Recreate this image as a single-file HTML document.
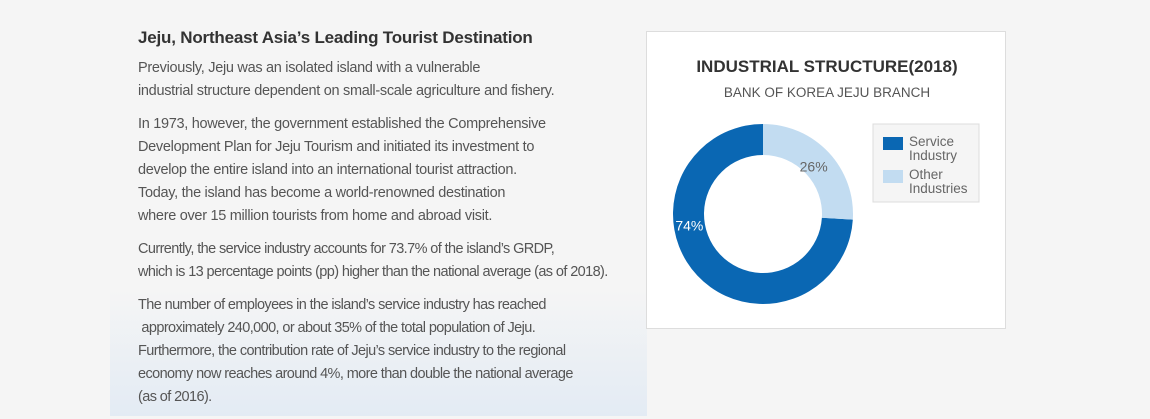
<!DOCTYPE html>
<html><head><meta charset="utf-8"><style>
body{margin:0;width:1150px;height:416px;background:#f5f5f5;font-family:"Liberation Sans",sans-serif;position:relative;overflow:hidden}
.grad{position:absolute;left:110px;top:290px;width:537px;height:126px;background:linear-gradient(#f5f5f5,#e3ebf4)}
.txt{position:absolute;left:138px;top:26px;width:520px;color:#555;font-size:14.5px;letter-spacing:-0.3px;line-height:23px}
h1{margin:0 0 8px;font-size:17px;color:#333;font-weight:bold;letter-spacing:-0.2px}
p{margin:0 0 10px}
.box{position:absolute;left:646px;top:31px;width:358px;height:296px;background:#fff;border:1px solid #ddd}
</style></head><body>
<div class="grad"></div>
<div class="txt">
<h1>Jeju, Northeast Asia’s Leading Tourist Destination</h1>
<p>Previously, Jeju was an isolated island with a vulnerable<br>industrial structure dependent on small-scale agriculture and fishery.</p>
<p>In 1973, however, the government established the Comprehensive<br>Development Plan for Jeju Tourism and initiated its investment to<br>develop the entire island into an international tourist attraction.<br>Today, the island has become a world-renowned destination<br>where over 15 million tourists from home and abroad visit.</p>
<p style="letter-spacing:-0.6px">Currently, the service industry accounts for 73.7% of the island’s GRDP,<br>which is 13 percentage points (pp) higher than the national average (as of 2018).</p>
<p style="letter-spacing:-0.6px">The number of employees in the island’s service industry has reached<br>&nbsp;approximately 240,000, or about 35% of the total population of Jeju.<br>Furthermore, the contribution rate of Jeju’s service industry to the regional<br>economy now reaches around 4%, more than double the national average<br>(as of 2016).</p>
</div>
<div class="box">
<svg width="358" height="296" id="svg">
<text x="180" y="40" text-anchor="middle" font-size="17" font-weight="bold" fill="#333">INDUSTRIAL STRUCTURE(2018)</text>
<text x="180" y="65" text-anchor="middle" font-size="13.5" fill="#555">BANK OF KOREA JEJU BRANCH</text>
<g id="donut"></g>
<g>
<rect x="226" y="92" width="106" height="78" fill="#f5f5f5" stroke="#ddd"/>
<rect x="236" y="105" width="20" height="13" fill="#0a67b3"/>
<text x="262" y="114" font-size="13.5" fill="#666">Service</text>
<text x="262" y="128" font-size="13.5" fill="#666">Industry</text>
<rect x="236" y="138" width="20" height="13" fill="#c2dcf1"/>
<text x="262" y="147" font-size="13.5" fill="#666">Other</text>
<text x="262" y="161" font-size="13.5" fill="#666">Industries</text>
</g>
</svg>
</div>
<script>
const categories=["Service Industry","Other Industries"];
const values=[74,26];
const labels=["74%","26%"];
const colors=["#0a67b3","#c2dcf1"];
const textColors=["#fff","#666"];
const cx=116,cy=182,R=90,r=59;
const g=document.getElementById('donut');
const total=values.reduce((a,b)=>a+b,0);
let start=-values[0]/total*2*Math.PI; // service slice ends at 12 o'clock going clockwise
function pt(a,rad){return [cx+rad*Math.sin(a),cy-rad*Math.cos(a)];}
values.forEach((v,i)=>{
  const a0=start,a1=start+v/total*2*Math.PI;start=a1;
  const large=(a1-a0)>Math.PI?1:0;
  const [x0,y0]=pt(a0,R),[x1,y1]=pt(a1,R),[x2,y2]=pt(a1,r),[x3,y3]=pt(a0,r);
  const p=document.createElementNS('http://www.w3.org/2000/svg','path');
  p.setAttribute('d',`M${x0},${y0}A${R},${R} 0 ${large} 1 ${x1},${y1}L${x2},${y2}A${r},${r} 0 ${large} 0 ${x3},${y3}Z`);
  p.setAttribute('fill',colors[i]);
  
  
  g.appendChild(p);
  const m=(a0+a1)/2;
  const off=i===0?0.9:0;
  const [tx,ty]=pt(m+off*(i===0?1:0)-(i===0?0.3:0),(R+r)/2+ (i===0?0:-5));
  const t=document.createElementNS('http://www.w3.org/2000/svg','text');
  t.setAttribute('x',tx);t.setAttribute('y',ty+5);
  t.setAttribute('text-anchor','middle');t.setAttribute('font-size','14');
  t.setAttribute('fill',textColors[i]);
  
  
  t.textContent=labels[i];
  g.appendChild(t);
});
</script>
</body></html>
